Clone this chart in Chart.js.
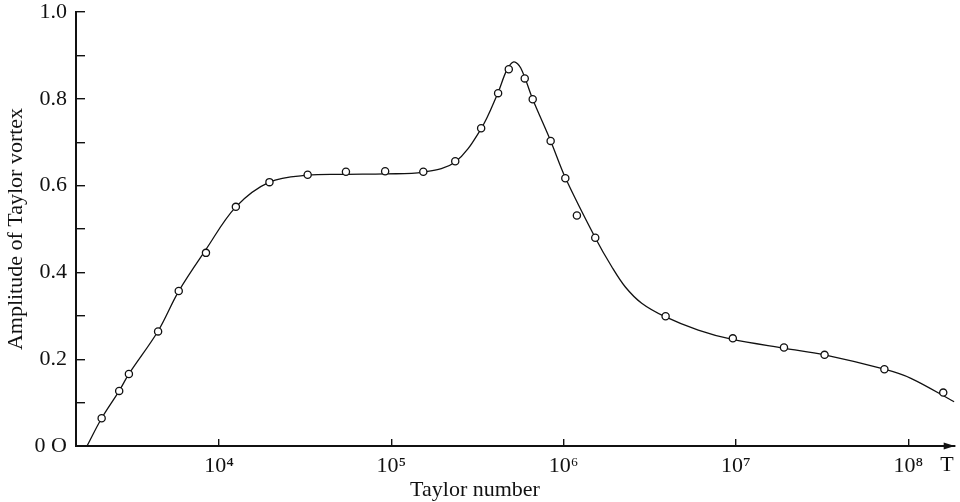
<!DOCTYPE html>
<html>
<head>
<meta charset="utf-8">
<script src="https://cdn.jsdelivr.net/npm/chart.js@4"></script>
<style>
  html, body { margin: 0; padding: 0; background: #fff; }
</style>
</head>
<body>
<canvas id="chart" width="960" height="502"></canvas>
<script>
// measured points (Taylor number, amplitude)
const measuredT = [2085, 2636, 3001, 4433, 5841, 8404, 12530, 19630, 32710, 54550,
  92100, 153400, 235000, 332200, 416700, 480600, 594800, 661700, 840900, 1022900,
  1194000, 1526000, 3907000, 9592000, 19000000, 32680000, 72680000, 159600000];
const measuredAmp = [0.064, 0.127, 0.166, 0.264, 0.357, 0.445, 0.551, 0.608, 0.625, 0.632,
  0.633, 0.632, 0.656, 0.732, 0.813, 0.868, 0.847, 0.799, 0.703, 0.617,
  0.531, 0.480, 0.299, 0.248, 0.227, 0.210, 0.177, 0.123];

// fitted curve
const curveT = [1714, 2085, 2636, 3001, 4433, 5841, 8371, 12530, 19630, 32580,
  54780, 92100, 152800, 234100, 330800, 415100, 467900, 513600, 563900, 661700,
  840900, 1027000, 1526000, 1903000, 2275000, 2839000, 3877000, 6043000, 9415000,
  19180000, 32680000, 72680000, 103600000, 184700000];
const curveAmp = [0, 0.064, 0.127, 0.166, 0.265, 0.357, 0.452, 0.551, 0.608, 0.624,
  0.626, 0.627, 0.631, 0.654, 0.730, 0.813, 0.866, 0.885, 0.871, 0.799,
  0.703, 0.617, 0.480, 0.413, 0.367, 0.329, 0.298, 0.267, 0.246,
  0.225, 0.210, 0.177, 0.156, 0.102];

const xTickValues = [1e4, 1e5, 1e6, 1e7, 1e8];
const xTickLabels = ['10⁴', '10⁵', '10⁶', '10⁷', '10⁸'];
const yTickLabels = ['0 O', '', '0.2', '', '0.4', '', '0.6', '', '0.8', '', '1.0'];

const ink = '#111';
const serif = "'Liberation Serif', 'DejaVu Serif', serif";

const points = measuredT.map((t, i) => ({ x: t, y: measuredAmp[i] }));
const curve = curveT.map((t, i) => ({ x: t, y: curveAmp[i] }));

// arrow on the T axis plus the loose labels
const extras = {
  id: 'extras',
  afterDraw(chart) {
    const { ctx, chartArea } = chart;
    const y = chart.scales.y.getPixelForValue(0);
    ctx.save();
    ctx.fillStyle = ink;
    ctx.beginPath();
    ctx.moveTo(chartArea.right, y);
    ctx.lineTo(chartArea.right - 11, y - 3.5);
    ctx.lineTo(chartArea.right - 11, y + 3.5);
    ctx.closePath();
    ctx.fill();
    ctx.font = '22px ' + serif;
    ctx.textAlign = 'center';
    ctx.textBaseline = 'middle';
    ctx.fillText('T', 947, 465);
    ctx.fillText('Taylor number', 475, 490);
    ctx.restore();
  }
};

new Chart(document.getElementById('chart'), {
  type: 'scatter',
  data: {
    datasets: [
      {
        data: points,
        pointRadius: 3.6,
        pointBorderWidth: 1.3,
        pointBackgroundColor: '#fff',
        pointBorderColor: ink,
        showLine: false
      },
      {
        data: curve,
        showLine: true,
        pointRadius: 0,
        borderColor: ink,
        borderWidth: 1.3,
        tension: 0.35
      }
    ]
  },
  options: {
    responsive: false,
    animation: false,
    layout: { padding: { top: 12, right: 3, bottom: 0, left: 0 } },
    plugins: { legend: { display: false }, tooltip: { enabled: false } },
    scales: {
      x: {
        type: 'logarithmic',
        min: 1480,
        max: 186000000,
        afterBuildTicks: (scale) => {
          scale.ticks = xTickValues.map(v => ({ value: v }));
        },
        afterFit: (scale) => { scale.height = 56; },
        border: { display: true, color: ink, width: 2 },
        grid: { drawOnChartArea: false, drawTicks: true, tickLength: -7, color: ink, lineWidth: 1.4 },
        ticks: {
          autoSkip: false,
          maxRotation: 0,
          padding: 14,
          color: ink,
          font: { family: serif, size: 22 },
          callback: (value) => xTickLabels[xTickValues.indexOf(value)]
        }
      },
      y: {
        min: 0,
        max: 1,
        afterFit: (scale) => {
          scale.width = 76;
          scale.paddingTop = 0;
          scale.paddingBottom = 0;
        },
        border: { display: true, color: ink, width: 2 },
        grid: { drawOnChartArea: false, drawTicks: true, tickLength: -9, color: ink, lineWidth: 1.4 },
        ticks: {
          stepSize: 0.1,
          padding: 18,
          color: ink,
          font: { family: serif, size: 22 },
          callback: (value, index) => yTickLabels[index]
        },
        title: {
          display: true,
          text: 'Amplitude of Taylor vortex',
          color: ink,
          font: { family: serif, size: 22 },
          padding: { top: 3, bottom: 0 }
        }
      }
    }
  },
  plugins: [extras]
});
</script>
</body>
</html>
